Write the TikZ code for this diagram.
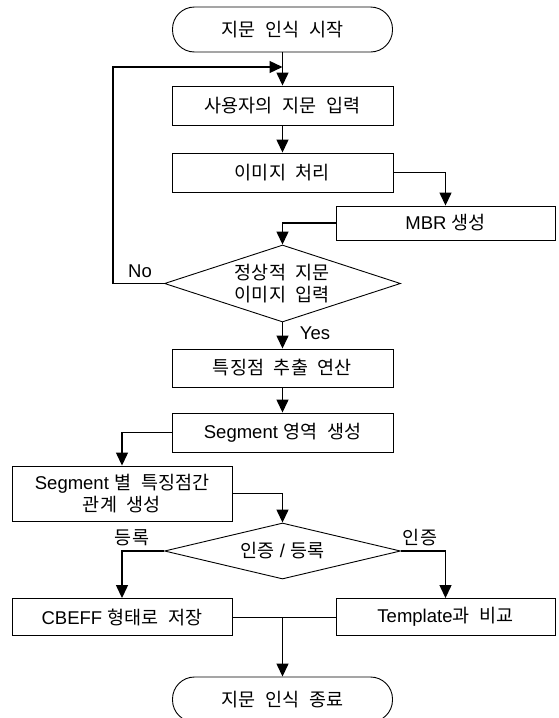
\documentclass[tikz,border=0pt]{standalone}
\usepackage{fontspec}
\setmainfont{Liberation Sans}
\newfontfamily\kr[WordSpace=2.4]{Noto Sans CJK KR}
\usetikzlibrary{shapes.geometric,arrows.meta}
\begin{document}
\begin{tikzpicture}[x=1pt,y=-1pt,
  txt/.style={font=\fontsize{18.5}{21.5}\selectfont},
  box/.style={txt, draw, line width=0.9pt, rectangle, minimum width=221pt, minimum height=39pt, inner sep=0pt, align=center},
  term/.style={txt, draw, line width=0.9pt, rounded corners=22pt, minimum width=220pt, minimum height=45pt, inner sep=0pt},
  dec/.style={txt, draw, diamond, aspect=3.2, line width=0.9pt, inner sep=0pt, align=center},
  conn/.style={line width=1.3pt, -{Triangle[length=13pt,width=12pt]}},
  line/.style={line width=1.3pt},
  lbl/.style={txt, inner sep=0pt}]
\useasboundingbox (0,0) rectangle (558,718);
\clip (0,0) rectangle (558,718);
\node[term] (start) at (282.5,29.5) {\kr 지문 인식 시작};
\node[box] (b1) at (282.5,105.5) {\kr 사용자의 지문 입력};
\node[box] (b2) at (282.5,172.5) {\kr 이미지 처리};
\node[box, minimum width=219pt, minimum height=34pt] (mbr) at (445.5,223) {MBR {\kr 생성}};
\node[dec, minimum width=236pt, minimum height=77pt] (d1) at (282.5,283.5) {\kr 정상적 지문\\\kr 이미지 입력};
\node[box, minimum height=38pt] (b3) at (282.5,368) {\kr 특징점 추출 연산};
\node[box] (b4) at (282.5,432.5) {Segment {\kr 영역 생성}};
\node[box, minimum width=220pt, minimum height=55pt] (b5) at (122,493.5) {Segment {\kr 별 특징점간}\\\kr 관계 생성};
\node[dec, minimum width=236pt, minimum height=56pt] (d2) at (282.5,551) {{\kr 인증} / {\kr 등록}};
\node[box, minimum width=220pt, minimum height=37pt] (b6) at (122,617) {CBEFF {\kr 형태로 저장}};
\node[box, minimum width=219pt, minimum height=37pt] (b7) at (445.5,617) {Template{\kr 과 비교}};
\node[term] (end) at (282.5,699.5) {\kr 지문 인식 종료};
\node[lbl] (lno) at (140,271) {No};
\node[lbl] (lyes) at (315,333) {Yes};
\node[lbl] (lreg) at (132,538) {\kr 등록};
\node[lbl] (lauth) at (420,538) {\kr 인증};
\coordinate (lp) at (113,67);
\coordinate (lpend) at (282.5,67);
\coordinate (j) at (282.5,617);
\draw[conn] (start) -- (b1);
\draw[conn] (d1.west) -| (lp) -- (lpend);
\draw[conn] (b1) -- (b2);
\draw[conn] (b2.east) -| (mbr.north);
\draw[conn] (mbr.west) -| (d1.north);
\draw[conn] (d1.south) -- (b3.north);
\draw[conn] (b3) -- (b4);
\draw[conn] (b4.west) -| (b5.north);
\draw[conn] (b5.east) -| (d2.north);
\draw[conn] (d2.west) -| (b6.north);
\draw[conn] (d2.east) -| (b7.north);
\draw[line width=0.9pt] (b6.east) -- (b7.west);
\draw[conn] (j) -- (end.north);
\end{tikzpicture}
\end{document}
